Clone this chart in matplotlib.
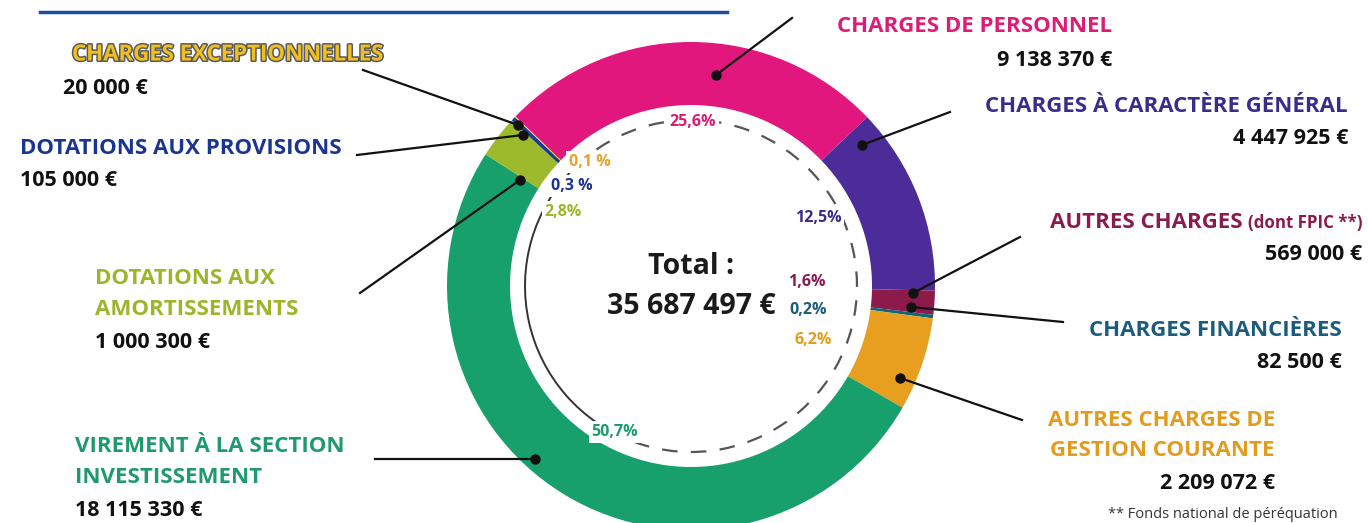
import matplotlib.pyplot as plt
import matplotlib.patheffects as pe
from matplotlib.patches import Arc

plt.rcParams['font.family'] = ['Open Sans', 'DejaVu Sans']

# data, in clockwise order starting at the top-left of the ring
names = ["CHARGES DE PERSONNEL", "CHARGES À CARACTÈRE GÉNÉRAL", "AUTRES CHARGES",
         "CHARGES FINANCIÈRES", "AUTRES CHARGES DE\nGESTION COURANTE",
         "VIREMENT À LA SECTION\nINVESTISSEMENT", "DOTATIONS AUX\nAMORTISSEMENTS",
         "DOTATIONS AUX PROVISIONS", "CHARGES EXCEPTIONNELLES"]
values = [9138370, 4447925, 569000, 82500, 2209072, 18115330, 1000300, 105000, 20000]
pct_labels = ["25,6%", "12,5%", "1,6%", "0,2%", "6,2%", "50,7%", "2,8%", "0,3 %", "0,1 %"]
colors = ['#E2177D', '#4B2C98', '#8C1B4B', '#0F6677', '#E89E1E', '#17A06C',
          '#9DBA2C', '#1C3C92', '#F3D21C']
text_colors = ['#DD1C78', '#3B2C8C', '#8A1B4E', '#1B5C7C', '#E39B1C', '#1E9A6C',
               '#9BB62A', '#1A3590', '#F0C020']
pct_colors = ['#D81C74', '#3B2C8C', '#8A1B4E', '#1B5C7C', '#E39B1C', '#1E9A6C',
              '#9BB62A', '#1A3590', '#E8A22A']

H = 523
def Y(y):
    return H - y

def money(v):
    return f"{v:,}".replace(",", " ") + " €"

fig = plt.figure(figsize=(13.68, 5.23), dpi=100)
ax = fig.add_axes([0, 0, 1, 1])

cx, cy = 691, Y(286)
ax.pie(values, colors=colors, startangle=136, counterclock=False, radius=244,
       center=(cx, cy), wedgeprops=dict(width=63, edgecolor='none', linewidth=0))
ax.set_xlim(0, 1368)
ax.set_ylim(0, H)
ax.set_aspect('equal')
ax.axis('off')

# thin circle inside the ring
ax.add_patch(Arc((cx, cy), 332, 332, theta1=-110, theta2=135, color='#555555',
                 lw=1.6, linestyle=(0, (7, 6))))
ax.add_patch(Arc((cx, cy), 332, 332, theta1=135, theta2=250, color='#333333', lw=1.4))

# percentages
pct_pos = [(693, 122), (818, 218), (807, 282), (808, 310), (813, 340),
           (615, 432), (563, 212), (572, 186), (590, 162)]
for s, (px, py), c in zip(pct_labels, pct_pos, pct_colors):
    ax.text(px, Y(py), s, color=c, fontsize=11.5, fontweight='bold', ha='center',
            va='center', bbox=dict(facecolor='white', edgecolor='none', pad=2))

total = sum(values)
ax.text(cx, Y(267), "Total :", fontsize=20.5, fontweight='bold', ha='center',
        va='center', color='#1a1a1a')
ax.text(cx, Y(306), money(total), fontsize=20.5, fontweight='bold', ha='center',
        va='center', color='#1a1a1a')

# leader lines: dot in the ring -> end near the label
leaders = [((716, 75), (792, 18)), ((862, 145), (950, 112)), ((913, 293), (1020, 237)),
           ((911, 307), (1063, 322)), ((900, 378), (1022, 420)), ((535, 459), (375, 459)),
           ((520, 180), (360, 293)), ((523, 135), (357, 155)), ((518, 125), (363, 70))]
for (dx, dy), (ex, ey) in leaders:
    ax.plot([dx, ex], [Y(dy), Y(ey)], color='#111111', lw=1.6)
    ax.plot(dx, Y(dy), 'o', color='#111111', ms=6.5)

# labels: (x, y of first line, alignment)
lab_pos = [(1112, 27, 'right'), (1348, 106, 'right'), (1362, 222, 'right'),
           (1342, 330, 'right'), (1275, 420, 'right'), (75, 447, 'left'),
           (95, 279, 'left'), (20, 148, 'left'), (72, 55, 'left')]
line_h = 30.5
fig.canvas.draw()
for i, (name, v, c, (lx, ly, al)) in enumerate(zip(names, values, text_colors, lab_pos)):
    effects = None
    if i == 8:
        effects = [pe.withStroke(linewidth=2.2, foreground='#5a5a5a')]
    if i == 2:
        t = ax.text(lx, Y(ly + 1), "(dont FPIC **)", color=c, fontsize=12.2,
                    fontweight='bold', ha='right', va='center')
        bb = t.get_window_extent(fig.canvas.get_renderer())
        ax.text(bb.x0 - 5, Y(ly), name, color=c, fontsize=16, fontweight='bold',
                ha='right', va='center')
    lines = name.split("\n")
    if i != 2:
        # one text per line so the line gap is exact
        for k, ln in enumerate(lines):
            ax.text(lx, Y(ly + k * line_h), ln, color=c, fontsize=16,
                    fontweight='bold', ha=al, va='center', path_effects=effects)
    vx = lx
    if i == 8:
        vx = 63
    ax.text(vx, Y(ly + (len(lines) - 1) * line_h + 33), money(v), color='#111111',
            fontsize=15.5, fontweight='bold', ha=al, va='center')

# top rule and footnote
ax.plot([40, 727], [Y(12), Y(12)], color='#1F4E9A', lw=2.5)
ax.text(1108, Y(514), "** Fonds national de péréquation",
        fontsize=10.5, color='#333333', ha='left', va='center')

fig.savefig("out.png", dpi=100)
